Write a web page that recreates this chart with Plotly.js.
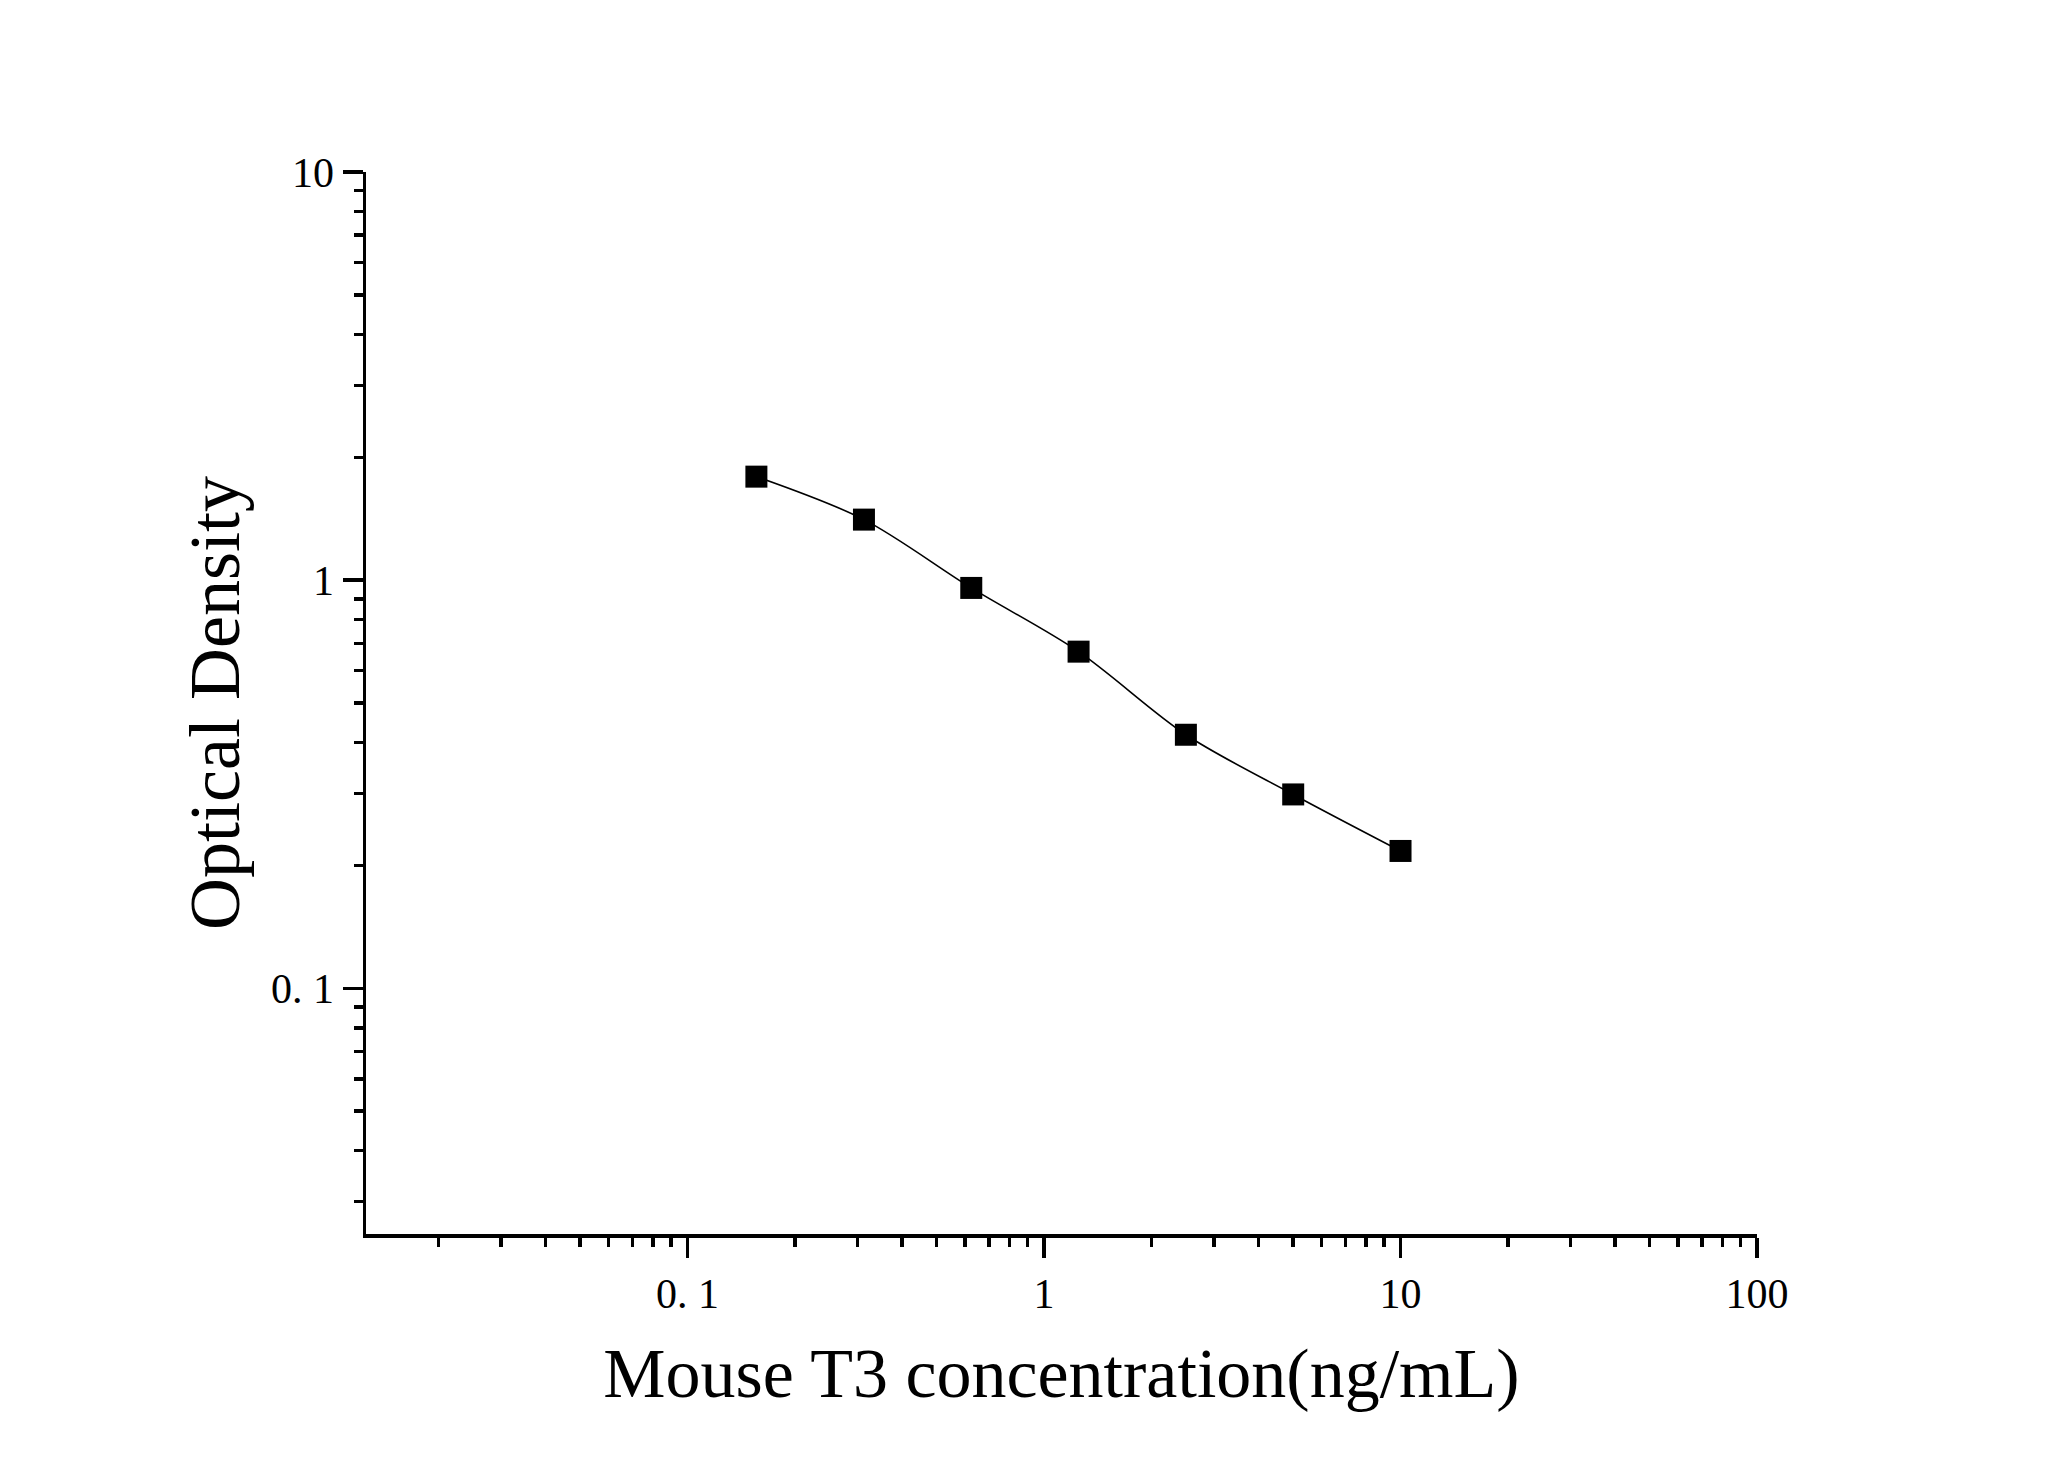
<!DOCTYPE html>
<html>
<head>
<meta charset="utf-8">
<script src="https://cdn.plot.ly/plotly-3.0.1.min.js"></script>
<style>html,body{margin:0;padding:0;background:#fff;}#chart{width:2048px;height:1481px;}</style>
</head>
<body>
<div id="chart"></div>
<script>
// Data
const concentration = [0.156, 0.3125, 0.625, 1.25, 2.5, 5, 10];
const opticalDensity = [1.793, 1.407, 0.957, 0.668, 0.418, 0.2985, 0.217];

const xTickVals = [0.1, 1, 10, 100];
const xTickText = ['0. 1', '1', '10', '100'];
const yTickVals = [0.1, 1, 10];
const yTickText = ['0. 1', '1', '10'];
const xMinorVals = [0.02,0.03,0.04,0.05,0.06,0.07,0.08,0.09,0.2,0.3,0.4,0.5,0.6,0.7,0.8,0.9,2,3,4,5,6,7,8,9,20,30,40,50,60,70,80,90];
const yMinorVals = [0.03,0.04,0.05,0.06,0.07,0.08,0.09,0.2,0.3,0.4,0.5,0.6,0.7,0.8,0.9,2,3,4,5,6,7,8,9];

const fontFam = '"Liberation Serif", "Times New Roman", serif';

const traces = [
  {
    x: concentration, y: opticalDensity, type: 'scatter', mode: 'lines',
    line: {shape: 'spline', smoothing: 0.9, color: '#000', width: 1.6},
    hoverinfo: 'skip', showlegend: false
  },
  {
    x: concentration, y: opticalDensity, type: 'scatter', mode: 'markers',
    marker: {symbol: 'square', size: 22, color: '#000', line: {width: 0}},
    showlegend: false
  }
];

const axisCommon = {
  type: 'log', showgrid: false, zeroline: false, showline: true,
  linecolor: '#000', linewidth: 3.5, ticks: 'outside', ticklen: 20,
  tickwidth: 3.5, tickcolor: '#000', tickmode: 'array',
  tickfont: {family: fontFam, size: 42, color: '#000'}
};

const layout = {
  width: 2048, height: 1481,
  margin: {l: 366, r: 291, t: 172, b: 247},
  paper_bgcolor: '#fff', plot_bgcolor: '#fff',
  showlegend: false,
  xaxis: Object.assign({}, axisCommon, {
    range: [-1.902, 2],
    tickvals: xTickVals, ticktext: xTickText,
    minor: {tickvals: xMinorVals, ticks: 'outside', ticklen: 9, tickwidth: 3.5, tickcolor: '#000', showgrid: false},
    title: {text: 'Mouse T3 concentration(ng/mL)', font: {family: fontFam, size: 70, color: '#000'}, standoff: 33}
  }),
  yaxis: Object.assign({}, axisCommon, {
    range: [Math.log10(0.025), 1],
    tickvals: yTickVals, ticktext: yTickText,
    minor: {tickvals: yMinorVals, ticks: 'outside', ticklen: 9, tickwidth: 3.5, tickcolor: '#000', showgrid: false},
    title: {text: 'Optical Density', font: {family: fontFam, size: 72, color: '#000'}, standoff: 9}
  })
};

Plotly.newPlot('chart', traces, layout, {displayModeBar: false, staticPlot: true});
</script>
</body>
</html>
